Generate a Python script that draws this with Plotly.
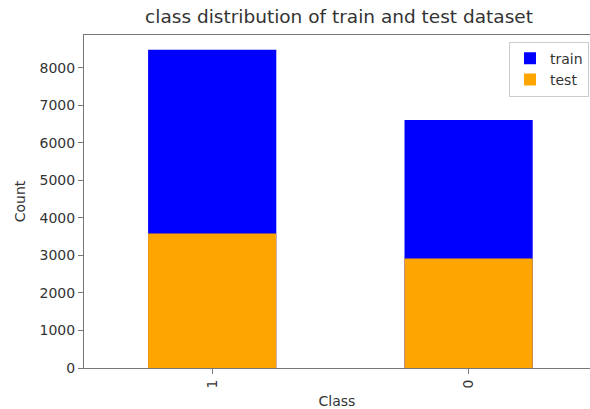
import plotly.graph_objects as go

classes = ["1", "0"]
train_counts = [8480, 6605]
test_counts = [3584, 2917]
y_ticks = [0, 1000, 2000, 3000, 4000, 5000, 6000, 7000, 8000]

TEXT = "#333333"
SPINE = "#777777"

fig = go.Figure()
fig.add_trace(go.Bar(x=classes, y=train_counts, name="train",
                     marker=dict(color="#0000ff", line=dict(width=0)), width=0.5))
fig.add_trace(go.Bar(x=classes, y=test_counts, name="test",
                     marker=dict(color="#ffa500", line=dict(width=0)), width=0.5))

fig.update_layout(
    width=590, height=409,
    margin=dict(l=84, r=0, t=35, b=41, autoexpand=False),
    barmode="overlay",
    plot_bgcolor="white", paper_bgcolor="white",
    font=dict(family="DejaVu Sans", size=14, color=TEXT),
    title=dict(text="class distribution of train and test dataset",
               x=0.504, xref="paper", xanchor="center",
               y=1 - 17 / 409, yref="container", yanchor="middle",
               font=dict(size=18.5, color=TEXT)),
    legend=dict(x=0.998, y=0.98, xanchor="right", yanchor="top",
                bordercolor="#cccccc", borderwidth=1, bgcolor="white",
                font=dict(size=14, color=TEXT), itemwidth=30,
                tracegroupgap=0),
    showlegend=True,
)
fig.update_xaxes(
    type="category", range=[-0.5, 1.4735],
    showline=True, linecolor=SPINE, linewidth=1, mirror=True,
    ticks="outside", ticklen=5, tickcolor=SPINE, tickangle=-90,
    tickfont=dict(size=14, color=TEXT), showgrid=False,
    title=dict(text="Class", font=dict(size=14, color=TEXT), standoff=10),
)
fig.update_yaxes(
    range=[0, 8872], tickvals=y_ticks,
    showline=True, linecolor=SPINE, linewidth=1,
    ticks="outside", ticklen=5, tickcolor=SPINE,
    tickfont=dict(size=14, color=TEXT), showgrid=False, zeroline=False,
    title=dict(text="Count", font=dict(size=14, color=TEXT), standoff=10),
)

fig.write_html("out.html", config={"displayModeBar": False},
               post_script="document.body.style.margin='0';document.body.style.overflow='hidden';")
